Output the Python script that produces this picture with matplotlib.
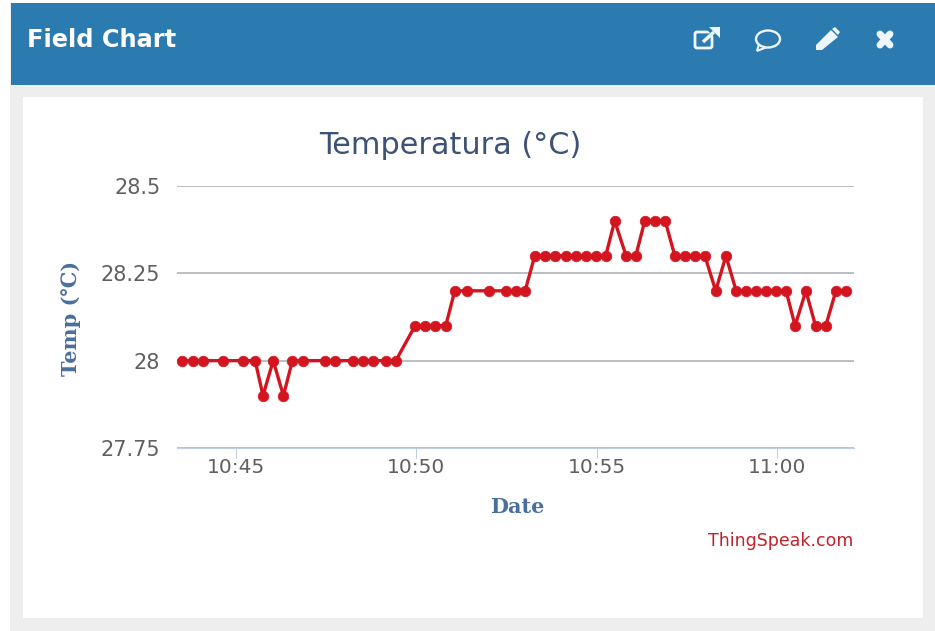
import matplotlib
matplotlib.use('Agg')
import matplotlib.pyplot as plt
import matplotlib.dates as mdates
import pandas as pd
from matplotlib.patches import Rectangle, Polygon, Ellipse, FancyBboxPatch

# readings
times = ['10:43:31', '10:43:48', '10:44:05', '10:44:38', '10:45:11', '10:45:32', '10:45:45', '10:46:02',
         '10:46:19', '10:46:34', '10:46:51', '10:47:28', '10:47:45', '10:48:15', '10:48:32', '10:48:48',
         '10:49:10', '10:49:26', '10:49:58', '10:50:14', '10:50:31', '10:50:49', '10:51:04', '10:51:25',
         '10:52:01', '10:52:29', '10:52:46', '10:53:01', '10:53:17', '10:53:34', '10:53:51', '10:54:09',
         '10:54:26', '10:54:42', '10:54:59', '10:55:15', '10:55:30', '10:55:49', '10:56:05', '10:56:20',
         '10:56:37', '10:56:54', '10:57:10', '10:57:27', '10:57:44', '10:58:00', '10:58:18', '10:58:35',
         '10:58:52', '10:59:08', '10:59:25', '10:59:42', '10:59:58', '11:00:15', '11:00:30', '11:00:48',
         '11:01:04', '11:01:21', '11:01:38', '11:01:55']
temps = [28, 28, 28, 28, 28, 28, 27.9, 28,
         27.9, 28, 28, 28, 28, 28, 28, 28,
         28, 28, 28.1, 28.1, 28.1, 28.1, 28.2, 28.2,
         28.2, 28.2, 28.2, 28.2, 28.3, 28.3, 28.3, 28.3,
         28.3, 28.3, 28.3, 28.3, 28.4, 28.3, 28.3, 28.4,
         28.4, 28.4, 28.3, 28.3, 28.3, 28.3, 28.2, 28.3,
         28.2, 28.2, 28.2, 28.2, 28.2, 28.2, 28.1, 28.2,
         28.1, 28.1, 28.2, 28.2]
y_ticks = [27.75, 28, 28.25, 28.5]
y_labels = ['27.75', '28', '28.25', '28.5']
x_ticks = ['10:45:00', '10:50:00', '10:55:00', '11:00:00']
x_range = ['10:43:22', '11:02:08']

W, H = 935, 631
RED = '#d3151f'
NAVY = '#3d5375'
LABEL = '#4a6f9c'
GREY = '#606060'
ICON = '#eef6fb'
BLUE = '#2c7bb0'

def to_time(values):
    return pd.to_datetime(['2017-01-01 ' + v for v in values])

fig = plt.figure(figsize=(W / 100, H / 100), dpi=100, facecolor='white')

# page furniture in pixel coordinates
bg = fig.add_axes([0, 0, 1, 1], zorder=0)
bg.set_xlim(0, W)
bg.set_ylim(H, 0)
bg.axis('off')
bg.add_patch(Rectangle((10, 3), 925, 628, fc='#eeeeee', ec='none'))
bg.add_patch(Rectangle((11, 3), 924, 82, fc=BLUE, ec='none'))
bg.add_patch(Rectangle((23, 97), 900, 521, fc='white', ec='none'))
bg.text(27, 40, 'Field Chart', color='white', fontsize=17.3, fontweight='bold',
        family='DejaVu Sans', va='center', ha='left')

# external link icon
bg.add_patch(FancyBboxPatch((695, 32), 17, 16, boxstyle='round,pad=0,rounding_size=2',
                            fc='none', ec=ICON, lw=2))
bg.add_patch(Polygon([(707, 26), (720, 26), (720, 39)], fc=BLUE, ec=BLUE, lw=4))
bg.add_patch(Polygon([(709, 27), (720, 27), (720, 38)], fc=ICON, ec='none'))
bg.plot([703, 714], [42, 32], color=ICON, lw=2.5, solid_capstyle='butt')
# comment icon
bg.add_patch(Polygon([(759, 44), (757, 51), (767, 47)], fc=BLUE, ec=ICON, lw=1.5))
bg.add_patch(Ellipse((768, 39), 24, 17, fc=BLUE, ec=ICON, lw=1.7))
# pencil icon
bg.add_patch(Polygon([(816, 45), (831, 30), (838, 37), (822, 50), (816, 50)], fc=ICON, ec='none'))
bg.add_patch(Polygon([(832, 29), (835, 27), (840, 32), (838, 35)], fc=ICON, ec='none'))
# close icon
bg.plot([880, 890], [34, 45], color=ICON, lw=5, solid_capstyle='round')
bg.plot([890, 880], [34, 45], color=ICON, lw=5, solid_capstyle='round')

# the chart itself
left, right, top, bottom = 177, 854, 186, 448
ax = fig.add_axes([left / W, 1 - bottom / H, (right - left) / W, (bottom - top) / H], zorder=1)
ax.patch.set_alpha(0)
ax.plot(to_time(times), temps, color=RED, lw=2.4, marker='o', ms=7.6, mec=RED, mew=0.5, clip_on=False, zorder=3)
ax.set_xlim(to_time(x_range))
ax.set_ylim(27.75, 28.5)

ax.set_yticks(y_ticks)
ax.set_yticklabels(y_labels, family='DejaVu Sans', fontsize=15, color=GREY)
ax.set_xticks(to_time(x_ticks))
ax.xaxis.set_major_formatter(mdates.DateFormatter('%H:%M'))
ax.tick_params(axis='x', labelsize=14.5, labelcolor=GREY, length=7, color='#c0d0e0', pad=0, direction='out')
ax.tick_params(axis='y', length=0, pad=12)
for lab in ax.get_xticklabels():
    lab.set_family('DejaVu Sans')
ax.grid(axis='y', color='#b0b4b8', lw=1.2)
ax.set_axisbelow(True)
for name, sp in ax.spines.items():
    sp.set_visible(name == 'bottom')
ax.spines['bottom'].set_color('#c0d0e0')

bg.text(450, 146, 'Temperatura (°C)', color=NAVY, fontsize=21.8, family='DejaVu Sans', ha='center', va='center')
bg.text(71, 318, 'Temp (℃)', color=LABEL, fontsize=15, fontweight='bold', family='DejaVu Serif',
        rotation=90, ha='center', va='center')
bg.text(517, 507, 'Date', color=LABEL, fontsize=15, fontweight='bold', family='DejaVu Serif',
        ha='center', va='center')
bg.text(853, 541, 'ThingSpeak.com', color='#c0222c', fontsize=12.5, family='DejaVu Sans', ha='right', va='center')

fig.savefig('out.png', dpi=100)
